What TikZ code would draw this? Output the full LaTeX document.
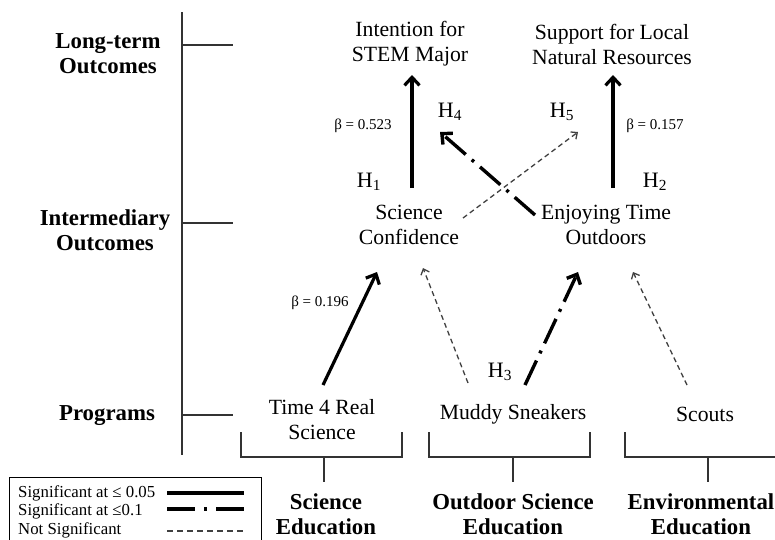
\documentclass[tikz,border=0pt]{standalone}
\usepackage{fontspec}
\setmainfont{Liberation Serif}
\usetikzlibrary{arrows.meta}
\begin{document}
\begin{tikzpicture}[x=1pt,y=-1pt,
  txt/.style={align=center, font=\fontsize{21.7}{25}\selectfont, inner sep=0pt},
  lvl/.style={align=center, font=\fontsize{22.8}{25}\selectfont\bfseries, inner sep=0pt},
  betalab/.style={font=\fontsize{15}{17}\selectfont, inner sep=0pt},
  hyp/.style={font=\fontsize{22}{25}\selectfont, inner sep=0pt},
  leg/.style={anchor=west, font=\fontsize{16.8}{18}\selectfont, inner sep=0pt},
  axisline/.style={line width=1.2pt, draw=black!80},
  sigline/.style={line width=3.2pt},
  sig/.style={sigline, -{Straight Barb[length=8pt,width=15pt]}},
  marglinestyle/.style={line width=3.4pt, dash pattern=on 27pt off 8pt on 3pt off 8pt},
  marg/.style={marglinestyle, -{Straight Barb[length=8pt,width=15pt]}},
  nslinestyle/.style={line width=1.3pt, draw=black!75, dash pattern=on 5pt off 3.5pt},
  ns/.style={nslinestyle, -{Straight Barb[length=5pt,width=9pt]}}
]
\useasboundingbox (0,0) rectangle (775,539);

% level axis
\coordinate (axtop) at (182,12);
\coordinate (axbot) at (182,455);
\draw[axisline] (axtop) -- (axbot);
\coordinate (tlong) at (182,45);
\coordinate (tint) at (182,223);
\coordinate (tprog) at (182,415);
\coordinate (tlonge) at (233,45);
\coordinate (tinte) at (233,223);
\coordinate (tproge) at (233,415);
\draw[axisline] (tlong) -- (tlonge);
\draw[axisline] (tint) -- (tinte);
\draw[axisline] (tprog) -- (tproge);

\node[lvl] (llong) at (108,54) {Long-term\\Outcomes};
\node[lvl] (lint) at (105,230) {Intermediary\\Outcomes};
\node[lvl] (lprog) at (107,416) {Programs};

% outcome nodes
\node[txt] (stem) at (410,44) {Intention for\\STEM Major};
\node[txt] (supp) at (612,44) {Support for Local\\Natural Resources};
\node[txt] (conf) at (409,225) {Science\\Confidence};
\node[txt] (enjoy) at (606,225) {Enjoying Time\\Outdoors};

% programs
\node[txt] (t4rs) at (322,420) {Time 4 Real\\Science};
\node[txt] (muddy) at (513,414) {Muddy Sneakers};
\node[txt] (scouts) at (705,414) {Scouts};

% categories
\node[lvl] (sciedu) at (326,514) {Science\\Education};
\node[lvl] (outedu) at (513,514) {Outdoor Science\\Education};
\node[lvl] (envedu) at (701,514) {Environmental\\Education};

% brackets
\coordinate (br1) at (324,457);
\coordinate (br2) at (513,457);
\coordinate (br3) at (708,457);
\coordinate (st1) at (324,482);
\coordinate (st2) at (513,482);
\coordinate (st3) at (708,482);
\draw[axisline] (241,432) -- (241,457) -- (402,457) -- (402,432);
\draw[axisline] (429,432) -- (429,457) -- (590,457) -- (590,432);
\draw[axisline] (625,432) -- (625,457) -- (776,457);
\draw[axisline] (br1) -- (st1);
\draw[axisline] (br2) -- (st2);
\draw[axisline] (br3) -- (st3);

% connector end points
\coordinate (conf-up) at (412,188);
\coordinate (stem-in) at (412,75);
\coordinate (enjoy-up) at (613,188);
\coordinate (supp-in) at (613,75);
\coordinate (enjoy-ul) at (535,215);
\coordinate (stem-h4) at (440,132);
\coordinate (conf-ur) at (463,218);
\coordinate (supp-h5) at (578,132);
\coordinate (t4rs-up) at (323,385);
\coordinate (conf-dl) at (377,272);
\coordinate (muddy-ul) at (468,383);
\coordinate (conf-dr) at (423,268);
\coordinate (muddy-ur) at (525,385);
\coordinate (enjoy-dl) at (578,272);
\coordinate (scouts-up) at (687,385);
\coordinate (enjoy-dr) at (633,272);

% connectors
\draw[sig] (conf-up) -- (stem-in);
\draw[sig] (enjoy-up) -- (supp-in);
\draw[marg] (enjoy-ul) -- (stem-h4);
\draw[ns] (conf-ur) -- (supp-h5);
\draw[sig] (t4rs-up) -- (conf-dl);
\draw[ns] (muddy-ul) -- (conf-dr);
\draw[marg] (muddy-ur) -- (enjoy-dl);
\draw[ns] (scouts-up) -- (enjoy-dr);

% labels
\node[betalab] (b1) at (363,126) {β = 0.523};
\node[betalab] (b2) at (655,126) {β = 0.157};
\node[betalab] (b3) at (320,303) {β = 0.196};
\node[hyp] (h1) at (369,182) {H\textsubscript{1}};
\node[hyp] (h2) at (655,182) {H\textsubscript{2}};
\node[hyp] (h3) at (500,372) {H\textsubscript{3}};
\node[hyp] (h4) at (450,112) {H\textsubscript{4}};
\node[hyp] (h5) at (562,112) {H\textsubscript{5}};

% legend
\draw[line width=1pt] (9,545) -- (9,477) -- (261,477) -- (261,545);
\node[leg] (l1) at (18,493) {Significant at ≤ 0.05};
\node[leg] (l2) at (18,511) {Significant at ≤0.1};
\node[leg] (l3) at (18,530) {Not Significant};
\draw[sigline] (167,493) -- (244,493);
\draw[marglinestyle, dash pattern=on 28pt off 9pt on 3pt off 9pt] (167,509) -- (245,509);
\draw[nslinestyle, dash pattern=on 6pt off 4pt] (167,531) -- (244,531);
\end{tikzpicture}
\end{document}
